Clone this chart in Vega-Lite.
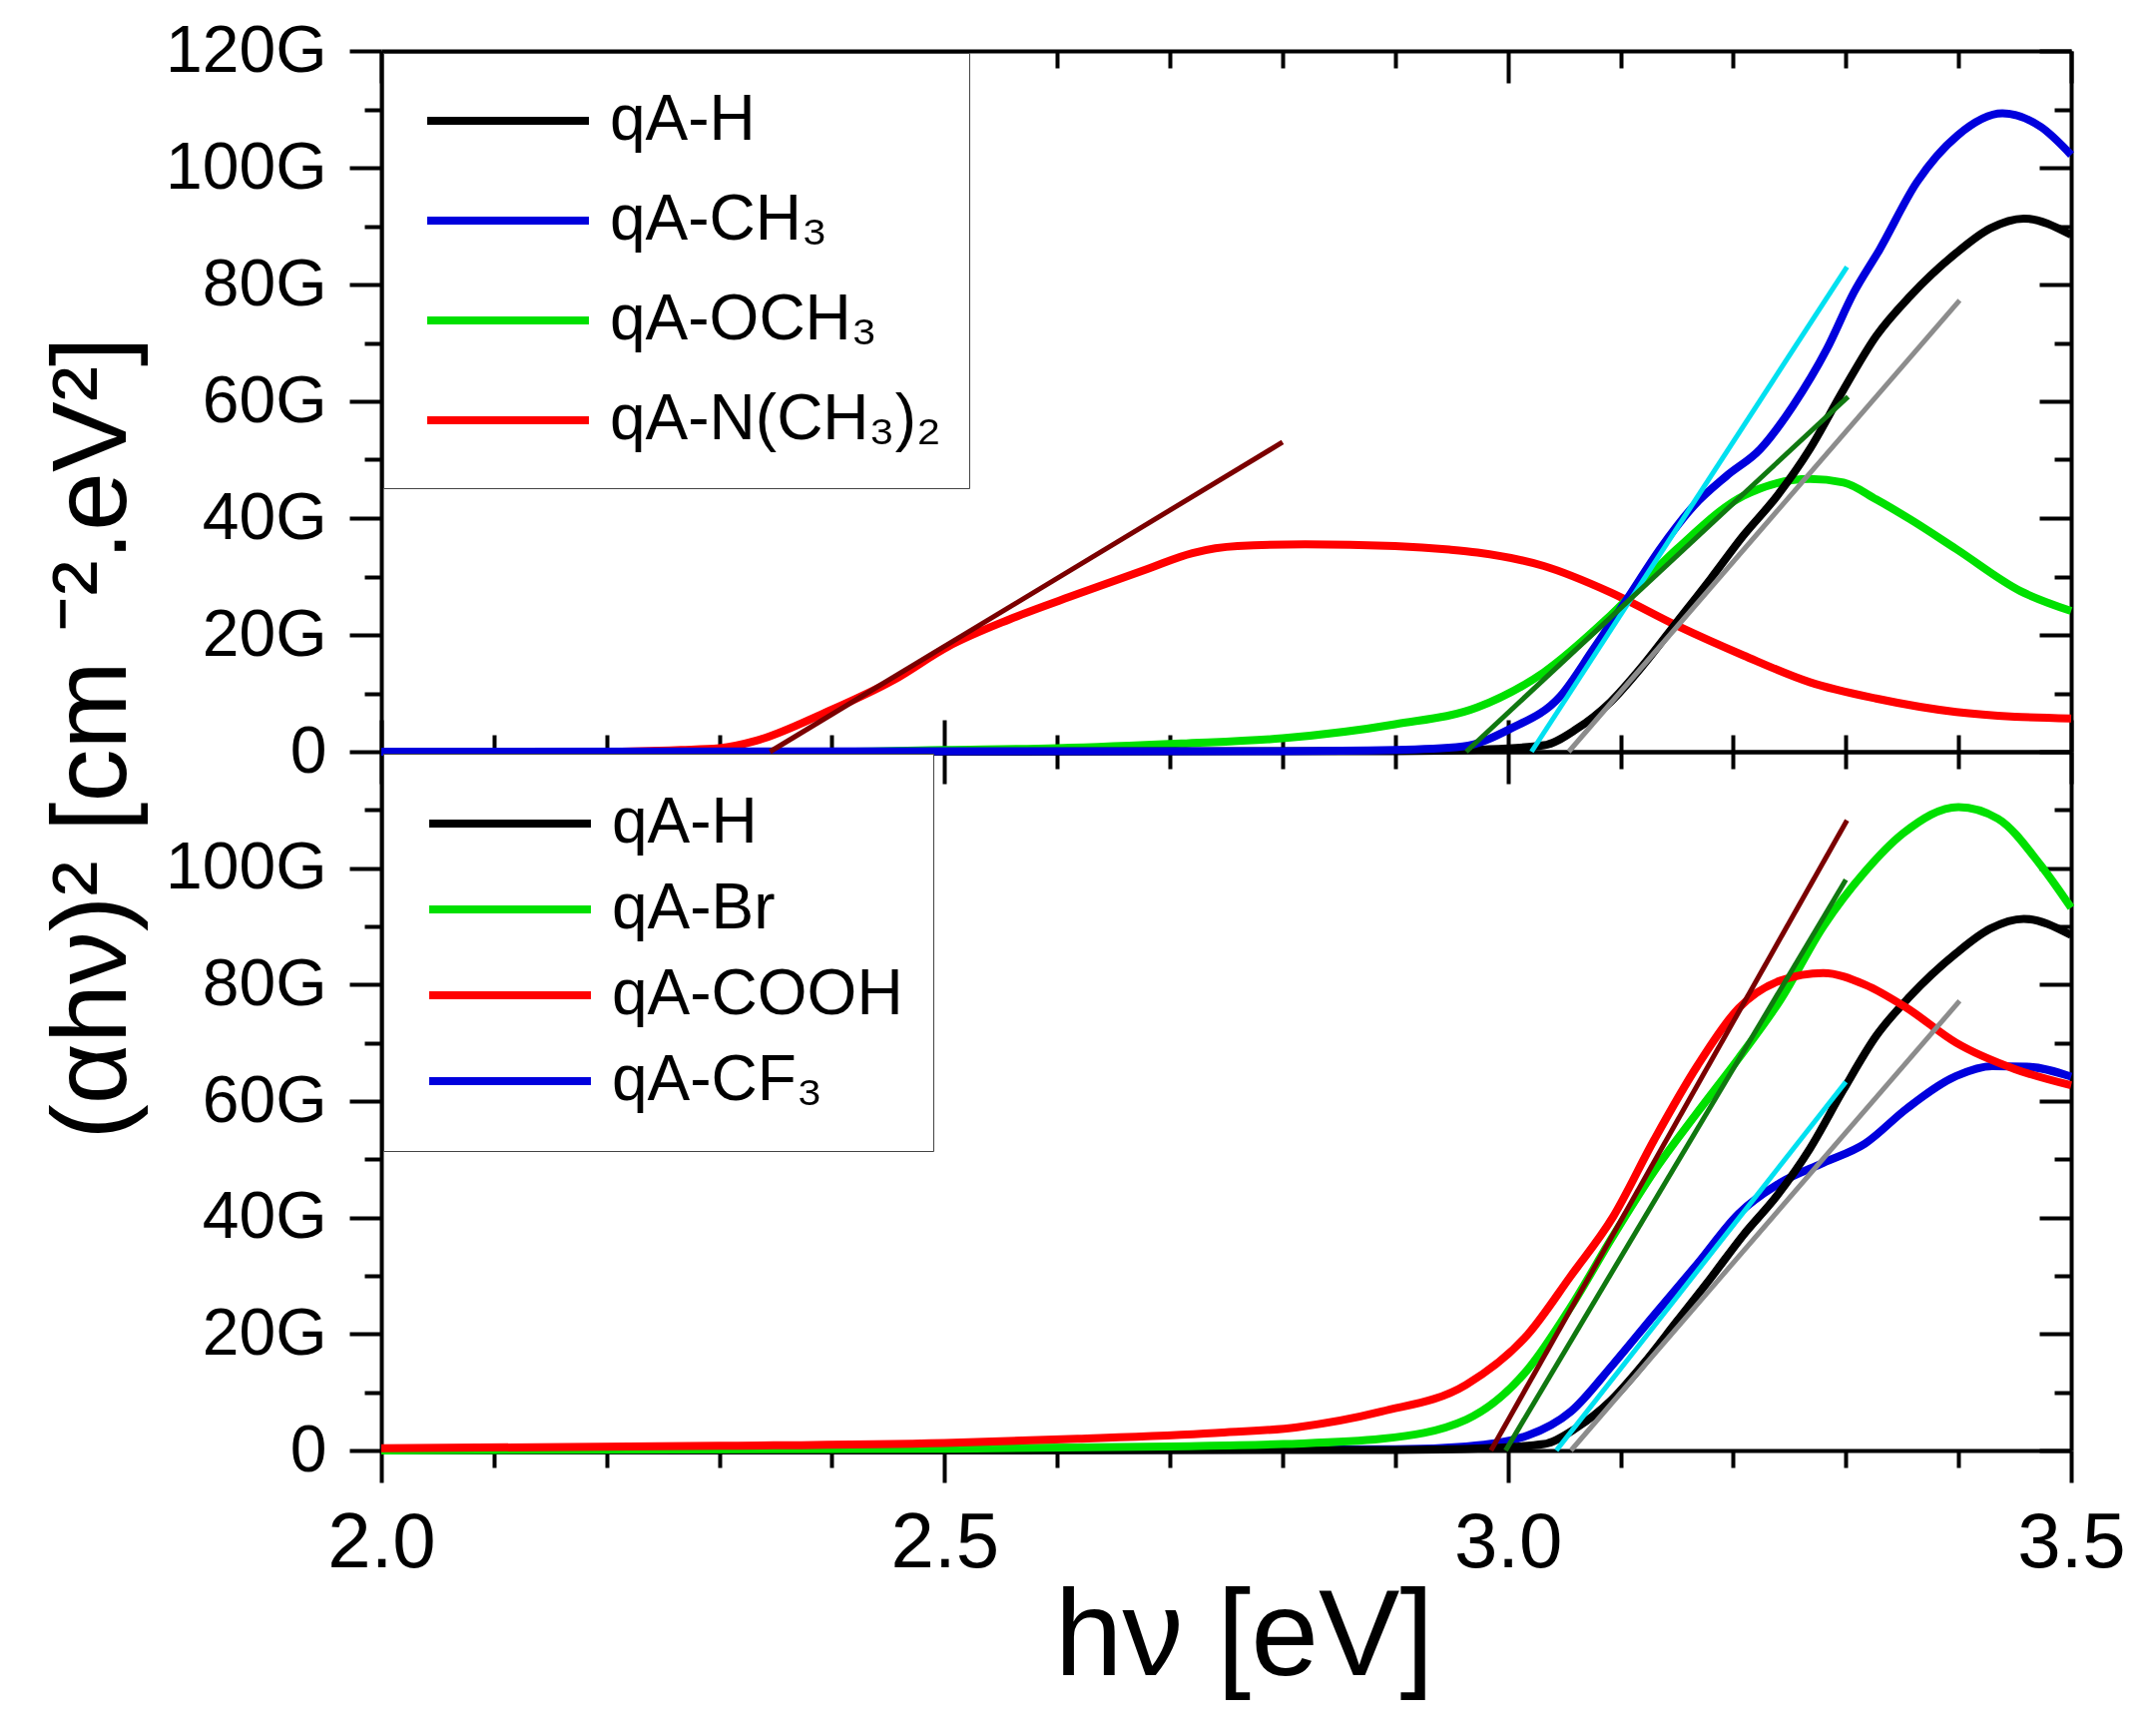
{
  "$schema": "https://vega.github.io/schema/vega-lite/v6.json",
  "width": 1693,
  "height": 1402,
  "autosize": {"type": "none"},
  "padding": {"left": 382, "top": 51, "right": 85, "bottom": 283},
  "background": "#ffffff",
  "config": {
    "view": {"stroke": null},
    "axis": {
      "grid": false,
      "domainColor": "#000000",
      "domainWidth": 4,
      "tickColor": "#000000",
      "tickWidth": 4,
      "labelFont": "Liberation Sans",
      "labelColor": "#000000",
      "labelFlush": false,
      "labelOverlap": false,
      "titleFont": "Liberation Sans",
      "titleColor": "#000000",
      "titleFontWeight": "normal"
    },
    "legend": {
      "labelFont": "Liberation Sans",
      "labelColor": "#000000"
    }
  },
  "datasets": {
    "top": [
      {"sample": "qA-N(CH₃)₂", "eV": 2.0, "G": 0},
      {"sample": "qA-N(CH₃)₂", "eV": 2.2, "G": 0},
      {"sample": "qA-N(CH₃)₂", "eV": 2.266, "G": 0.3},
      {"sample": "qA-N(CH₃)₂", "eV": 2.3, "G": 0.6},
      {"sample": "qA-N(CH₃)₂", "eV": 2.333, "G": 1.9},
      {"sample": "qA-N(CH₃)₂", "eV": 2.393, "G": 6.6},
      {"sample": "qA-N(CH₃)₂", "eV": 2.455, "G": 12.3},
      {"sample": "qA-N(CH₃)₂", "eV": 2.503, "G": 18},
      {"sample": "qA-N(CH₃)₂", "eV": 2.558, "G": 22.7},
      {"sample": "qA-N(CH₃)₂", "eV": 2.618, "G": 27},
      {"sample": "qA-N(CH₃)₂", "eV": 2.68, "G": 31.3},
      {"sample": "qA-N(CH₃)₂", "eV": 2.72, "G": 34},
      {"sample": "qA-N(CH₃)₂", "eV": 2.76, "G": 35.2},
      {"sample": "qA-N(CH₃)₂", "eV": 2.82, "G": 35.5},
      {"sample": "qA-N(CH₃)₂", "eV": 2.9, "G": 35.2},
      {"sample": "qA-N(CH₃)₂", "eV": 2.948, "G": 34.6},
      {"sample": "qA-N(CH₃)₂", "eV": 2.973, "G": 34.1},
      {"sample": "qA-N(CH₃)₂", "eV": 3.032, "G": 31.8},
      {"sample": "qA-N(CH₃)₂", "eV": 3.091, "G": 27.3},
      {"sample": "qA-N(CH₃)₂", "eV": 3.15, "G": 21.6},
      {"sample": "qA-N(CH₃)₂", "eV": 3.209, "G": 16.5},
      {"sample": "qA-N(CH₃)₂", "eV": 3.268, "G": 11.9},
      {"sample": "qA-N(CH₃)₂", "eV": 3.327, "G": 9.1},
      {"sample": "qA-N(CH₃)₂", "eV": 3.398, "G": 6.8},
      {"sample": "qA-N(CH₃)₂", "eV": 3.45, "G": 6},
      {"sample": "qA-N(CH₃)₂", "eV": 3.5, "G": 5.7},
      {"sample": "qA-OCH₃", "eV": 2.0, "G": 0},
      {"sample": "qA-OCH₃", "eV": 2.4, "G": 0},
      {"sample": "qA-OCH₃", "eV": 2.5, "G": 0.3},
      {"sample": "qA-OCH₃", "eV": 2.6, "G": 0.6},
      {"sample": "qA-OCH₃", "eV": 2.71, "G": 1.4},
      {"sample": "qA-OCH₃", "eV": 2.8, "G": 2.3},
      {"sample": "qA-OCH₃", "eV": 2.9, "G": 4.7},
      {"sample": "qA-OCH₃", "eV": 2.973, "G": 7.6},
      {"sample": "qA-OCH₃", "eV": 3.032, "G": 13.6},
      {"sample": "qA-OCH₃", "eV": 3.091, "G": 23.3},
      {"sample": "qA-OCH₃", "eV": 3.15, "G": 34.7},
      {"sample": "qA-OCH₃", "eV": 3.209, "G": 43.8},
      {"sample": "qA-OCH₃", "eV": 3.268, "G": 46.7},
      {"sample": "qA-OCH₃", "eV": 3.298, "G": 46.1},
      {"sample": "qA-OCH₃", "eV": 3.327, "G": 43.2},
      {"sample": "qA-OCH₃", "eV": 3.357, "G": 39.8},
      {"sample": "qA-OCH₃", "eV": 3.398, "G": 34.7},
      {"sample": "qA-OCH₃", "eV": 3.455, "G": 27.5},
      {"sample": "qA-OCH₃", "eV": 3.5, "G": 24.1},
      {"sample": "qA-H", "eV": 2.0, "G": 0},
      {"sample": "qA-H", "eV": 2.5, "G": 0},
      {"sample": "qA-H", "eV": 2.9, "G": 0.1},
      {"sample": "qA-H", "eV": 2.98, "G": 0.4},
      {"sample": "qA-H", "eV": 3.032, "G": 1.1},
      {"sample": "qA-H", "eV": 3.061, "G": 3.9},
      {"sample": "qA-H", "eV": 3.091, "G": 8.5},
      {"sample": "qA-H", "eV": 3.12, "G": 14.8},
      {"sample": "qA-H", "eV": 3.15, "G": 22.2},
      {"sample": "qA-H", "eV": 3.18, "G": 29.6},
      {"sample": "qA-H", "eV": 3.209, "G": 37},
      {"sample": "qA-H", "eV": 3.239, "G": 43.8},
      {"sample": "qA-H", "eV": 3.268, "G": 51.8},
      {"sample": "qA-H", "eV": 3.298, "G": 62},
      {"sample": "qA-H", "eV": 3.327, "G": 71.2},
      {"sample": "qA-H", "eV": 3.357, "G": 78},
      {"sample": "qA-H", "eV": 3.398, "G": 85.4},
      {"sample": "qA-H", "eV": 3.428, "G": 89.6},
      {"sample": "qA-H", "eV": 3.458, "G": 91.3},
      {"sample": "qA-H", "eV": 3.5, "G": 88.5},
      {"sample": "qA-CH₃", "eV": 2.0, "G": 0},
      {"sample": "qA-CH₃", "eV": 2.8, "G": 0.1},
      {"sample": "qA-CH₃", "eV": 2.9, "G": 0.3},
      {"sample": "qA-CH₃", "eV": 2.96, "G": 0.9},
      {"sample": "qA-CH₃", "eV": 3.002, "G": 3.9},
      {"sample": "qA-CH₃", "eV": 3.047, "G": 9.6},
      {"sample": "qA-CH₃", "eV": 3.076, "G": 17.6},
      {"sample": "qA-CH₃", "eV": 3.106, "G": 26.2},
      {"sample": "qA-CH₃", "eV": 3.135, "G": 34.7},
      {"sample": "qA-CH₃", "eV": 3.165, "G": 42.1},
      {"sample": "qA-CH₃", "eV": 3.194, "G": 47.2},
      {"sample": "qA-CH₃", "eV": 3.224, "G": 51.8},
      {"sample": "qA-CH₃", "eV": 3.253, "G": 59.2},
      {"sample": "qA-CH₃", "eV": 3.283, "G": 68.9},
      {"sample": "qA-CH₃", "eV": 3.307, "G": 78.6},
      {"sample": "qA-CH₃", "eV": 3.33, "G": 86},
      {"sample": "qA-CH₃", "eV": 3.363, "G": 97.5},
      {"sample": "qA-CH₃", "eV": 3.399, "G": 105.5},
      {"sample": "qA-CH₃", "eV": 3.439, "G": 109.3},
      {"sample": "qA-CH₃", "eV": 3.473, "G": 107},
      {"sample": "qA-CH₃", "eV": 3.5, "G": 102.2}
    ],
    "topfit": [
      {"line": "N(CH₃)₂ fit", "eV": 2.345, "G": 0},
      {"line": "N(CH₃)₂ fit", "eV": 2.8, "G": 53},
      {"line": "CH₃ fit", "eV": 3.021, "G": 0},
      {"line": "CH₃ fit", "eV": 3.301, "G": 83},
      {"line": "OCH₃ fit", "eV": 2.963, "G": 0},
      {"line": "OCH₃ fit", "eV": 3.302, "G": 60.8},
      {"line": "H fit", "eV": 3.054, "G": 0},
      {"line": "H fit", "eV": 3.401, "G": 77.3}
    ],
    "bottom": [
      {"sample": "qA-CF₃", "eV": 2.0, "G": 0},
      {"sample": "qA-CF₃", "eV": 2.9, "G": 0.2},
      {"sample": "qA-CF₃", "eV": 2.963, "G": 0.7},
      {"sample": "qA-CF₃", "eV": 3.018, "G": 2.6},
      {"sample": "qA-CF₃", "eV": 3.056, "G": 6.7},
      {"sample": "qA-CF₃", "eV": 3.093, "G": 14.7},
      {"sample": "qA-CF₃", "eV": 3.13, "G": 23.3},
      {"sample": "qA-CF₃", "eV": 3.168, "G": 32},
      {"sample": "qA-CF₃", "eV": 3.205, "G": 40.7},
      {"sample": "qA-CF₃", "eV": 3.242, "G": 46},
      {"sample": "qA-CF₃", "eV": 3.28, "G": 49.4},
      {"sample": "qA-CF₃", "eV": 3.317, "G": 52.7},
      {"sample": "qA-CF₃", "eV": 3.354, "G": 58.7},
      {"sample": "qA-CF₃", "eV": 3.398, "G": 64.3},
      {"sample": "qA-CF₃", "eV": 3.43, "G": 66},
      {"sample": "qA-CF₃", "eV": 3.461, "G": 65.9},
      {"sample": "qA-CF₃", "eV": 3.5, "G": 64.2},
      {"sample": "qA-H", "eV": 2.0, "G": 0},
      {"sample": "qA-H", "eV": 2.5, "G": 0},
      {"sample": "qA-H", "eV": 2.9, "G": 0.1},
      {"sample": "qA-H", "eV": 2.98, "G": 0.4},
      {"sample": "qA-H", "eV": 3.032, "G": 1.1},
      {"sample": "qA-H", "eV": 3.061, "G": 3.9},
      {"sample": "qA-H", "eV": 3.091, "G": 8.5},
      {"sample": "qA-H", "eV": 3.12, "G": 14.8},
      {"sample": "qA-H", "eV": 3.15, "G": 22.2},
      {"sample": "qA-H", "eV": 3.18, "G": 29.6},
      {"sample": "qA-H", "eV": 3.209, "G": 37},
      {"sample": "qA-H", "eV": 3.239, "G": 43.8},
      {"sample": "qA-H", "eV": 3.268, "G": 51.8},
      {"sample": "qA-H", "eV": 3.298, "G": 62},
      {"sample": "qA-H", "eV": 3.327, "G": 71.2},
      {"sample": "qA-H", "eV": 3.357, "G": 78},
      {"sample": "qA-H", "eV": 3.398, "G": 85.4},
      {"sample": "qA-H", "eV": 3.428, "G": 89.6},
      {"sample": "qA-H", "eV": 3.458, "G": 91.3},
      {"sample": "qA-H", "eV": 3.5, "G": 88.5},
      {"sample": "qA-Br", "eV": 2.0, "G": 0},
      {"sample": "qA-Br", "eV": 2.5, "G": 0.3},
      {"sample": "qA-Br", "eV": 2.7, "G": 0.7},
      {"sample": "qA-Br", "eV": 2.801, "G": 1.1},
      {"sample": "qA-Br", "eV": 2.888, "G": 2},
      {"sample": "qA-Br", "eV": 2.963, "G": 5.3},
      {"sample": "qA-Br", "eV": 3.018, "G": 14},
      {"sample": "qA-Br", "eV": 3.056, "G": 24.7},
      {"sample": "qA-Br", "eV": 3.093, "G": 36.7},
      {"sample": "qA-Br", "eV": 3.13, "G": 48},
      {"sample": "qA-Br", "eV": 3.168, "G": 58},
      {"sample": "qA-Br", "eV": 3.205, "G": 67.4},
      {"sample": "qA-Br", "eV": 3.242, "G": 77.4},
      {"sample": "qA-Br", "eV": 3.28, "G": 90},
      {"sample": "qA-Br", "eV": 3.317, "G": 99.4},
      {"sample": "qA-Br", "eV": 3.351, "G": 106},
      {"sample": "qA-Br", "eV": 3.4, "G": 110.5},
      {"sample": "qA-Br", "eV": 3.435, "G": 108.5},
      {"sample": "qA-Br", "eV": 3.473, "G": 100.5},
      {"sample": "qA-Br", "eV": 3.5, "G": 93.2},
      {"sample": "qA-COOH", "eV": 2.0, "G": 0.4},
      {"sample": "qA-COOH", "eV": 2.3, "G": 0.8},
      {"sample": "qA-COOH", "eV": 2.5, "G": 1.3},
      {"sample": "qA-COOH", "eV": 2.618, "G": 2},
      {"sample": "qA-COOH", "eV": 2.74, "G": 3},
      {"sample": "qA-COOH", "eV": 2.813, "G": 4},
      {"sample": "qA-COOH", "eV": 2.888, "G": 6.7},
      {"sample": "qA-COOH", "eV": 2.963, "G": 11.3},
      {"sample": "qA-COOH", "eV": 3.018, "G": 20},
      {"sample": "qA-COOH", "eV": 3.056, "G": 30},
      {"sample": "qA-COOH", "eV": 3.093, "G": 40},
      {"sample": "qA-COOH", "eV": 3.13, "G": 53.4},
      {"sample": "qA-COOH", "eV": 3.168, "G": 66},
      {"sample": "qA-COOH", "eV": 3.205, "G": 76},
      {"sample": "qA-COOH", "eV": 3.242, "G": 80.7},
      {"sample": "qA-COOH", "eV": 3.28, "G": 82},
      {"sample": "qA-COOH", "eV": 3.317, "G": 80},
      {"sample": "qA-COOH", "eV": 3.354, "G": 76},
      {"sample": "qA-COOH", "eV": 3.398, "G": 70},
      {"sample": "qA-COOH", "eV": 3.45, "G": 65.5},
      {"sample": "qA-COOH", "eV": 3.5, "G": 62.7}
    ],
    "bottomfit": [
      {"line": "COOH fit", "eV": 2.985, "G": 0},
      {"line": "COOH fit", "eV": 3.301, "G": 108.2},
      {"line": "Br fit", "eV": 2.998, "G": 0},
      {"line": "Br fit", "eV": 3.3, "G": 98},
      {"line": "CF₃ fit", "eV": 3.043, "G": 0},
      {"line": "CF₃ fit", "eV": 3.3, "G": 63.3},
      {"line": "H fit", "eV": 3.056, "G": 0},
      {"line": "H fit", "eV": 3.401, "G": 77.2}
    ]
  },
  "layer": [
    {
      "data": {"name": "top"},
      "mark": {"type": "line", "strokeWidth": 8, "interpolate": "monotone"},
      "encoding": {
        "x": {
          "field": "eV", "type": "quantitative",
          "scale": {"domain": [2, 3.5], "nice": false},
          "axis": {
            "orient": "top", "title": null, "labels": false,
            "values": [2, 2.1, 2.2, 2.3, 2.4, 2.5, 2.6, 2.7, 2.8, 2.9, 3, 3.1, 3.2, 3.3, 3.4, 3.5],
            "tickSize": {"condition": {"test": "abs(datum.value*2 - round(datum.value*2)) < 0.01", "value": -32}, "value": -17}
          }
        },
        "y": {
          "field": "G", "type": "quantitative",
          "scale": {"domain": [0, 120], "range": [702, 0], "nice": false, "zero": false},
          "axis": {
            "orient": "left",
            "values": [0, 10, 20, 30, 40, 50, 60, 70, 80, 90, 100, 110, 120],
            "labelExpr": "datum.value % 20 == 0 ? (datum.value == 0 ? '0' : datum.value + 'G') : ''",
            "labelFontSize": 66, "labelPadding": 23,
            "tickSize": {"condition": {"test": "datum.value % 20 == 0", "value": 32}, "value": 17},
            "title": "(αhν)² [cm ⁻².eV²]",
            "titleFontSize": 106, "titleAngle": 270,
            "titleX": -289, "titleY": 688,
            "titleAlign": "center", "titleBaseline": "middle"
          }
        },
        "color": {
          "field": "sample", "type": "nominal",
          "scale": {
            "domain": ["qA-H", "qA-CH₃", "qA-OCH₃", "qA-N(CH₃)₂"],
            "range": ["#000000", "#0000DD", "#00E000", "#FF0000"]
          },
          "legend": {
            "title": null, "orient": "none", "direction": "vertical",
            "legendX": 2, "legendY": 2,
            "labelFontSize": 64, "labelLimit": 500,
            "symbolType": "stroke", "symbolSize": 26244, "symbolStrokeWidth": 8,
            "clipHeight": 80, "rowPadding": 20, "padding": 28,
            "labelOffset": 17, "symbolOffset": 12,
            "strokeColor": "#444444", "fillColor": "#ffffff", "zindex": 2
          }
        }
      }
    },
    {
      "data": {"name": "topfit"},
      "mark": {"type": "line", "strokeWidth": 5},
      "encoding": {
        "x": {
          "field": "eV", "type": "quantitative",
          "scale": {"domain": [2, 3.5], "nice": false},
          "axis": {
            "orient": "bottom", "offset": -700, "title": null, "labels": false,
            "values": [2, 2.1, 2.2, 2.3, 2.4, 2.5, 2.6, 2.7, 2.8, 2.9, 3, 3.1, 3.2, 3.3, 3.4, 3.5],
            "tickSize": {"condition": {"test": "abs(datum.value*2 - round(datum.value*2)) < 0.01", "value": -32}, "value": -17}
          }
        },
        "y": {
          "field": "G", "type": "quantitative",
          "scale": {"domain": [0, 120], "range": [702, 0], "nice": false, "zero": false},
          "axis": {
            "orient": "right", "title": null, "labels": false,
            "values": [0, 10, 20, 30, 40, 50, 60, 70, 80, 90, 100, 110, 120],
            "tickSize": {"condition": {"test": "datum.value % 20 == 0", "value": -32}, "value": -17}
          }
        },
        "color": {
          "field": "line", "type": "nominal",
          "scale": {
            "domain": ["N(CH₃)₂ fit", "CH₃ fit", "OCH₃ fit", "H fit"],
            "range": ["#7B0000", "#00E0F0", "#107810", "#8C8C8C"]
          },
          "legend": null
        }
      }
    },
    {
      "data": {"name": "bottom"},
      "mark": {"type": "line", "strokeWidth": 8, "interpolate": "monotone"},
      "encoding": {
        "x": {
          "field": "eV", "type": "quantitative",
          "scale": {"domain": [2, 3.5], "nice": false},
          "axis": {
            "orient": "bottom",
            "values": [2, 2.1, 2.2, 2.3, 2.4, 2.5, 2.6, 2.7, 2.8, 2.9, 3, 3.1, 3.2, 3.3, 3.4, 3.5],
            "labelExpr": "abs(datum.value*2 - round(datum.value*2)) < 0.01 ? format(datum.value, '.1f') : ''",
            "labelFontSize": 78, "labelPadding": 22,
            "tickSize": {"condition": {"test": "abs(datum.value*2 - round(datum.value*2)) < 0.01", "value": 32}, "value": 17},
            "title": "hν [eV]",
            "titleFontSize": 122,
            "titleX": 864, "titleY": 224,
            "titleAlign": "center", "titleBaseline": "alphabetic"
          }
        },
        "y": {
          "field": "G", "type": "quantitative",
          "scale": {"domain": [0, 120], "range": [1402, 702], "nice": false, "zero": false},
          "axis": {
            "orient": "left", "title": null,
            "values": [0, 10, 20, 30, 40, 50, 60, 70, 80, 90, 100, 110],
            "labelExpr": "datum.value % 20 == 0 ? (datum.value == 0 ? '0' : datum.value + 'G') : ''",
            "labelFontSize": 66, "labelPadding": 23,
            "tickSize": {"condition": {"test": "datum.value % 20 == 0", "value": 32}, "value": 17}
          }
        },
        "color": {
          "field": "sample", "type": "nominal",
          "scale": {
            "domain": ["qA-H", "qA-Br", "qA-COOH", "qA-CF₃"],
            "range": ["#000000", "#00E000", "#FF0000", "#0000DD"]
          },
          "legend": {
            "title": null, "orient": "none", "direction": "vertical",
            "legendX": 2, "legendY": 704,
            "labelFontSize": 64, "labelLimit": 500,
            "symbolType": "stroke", "symbolSize": 26244, "symbolStrokeWidth": 8,
            "clipHeight": 80, "rowPadding": 6, "padding": 30,
            "labelOffset": 17, "symbolOffset": 12,
            "strokeColor": "#444444", "fillColor": "#ffffff", "zindex": 2
          }
        }
      }
    },
    {
      "data": {"name": "bottomfit"},
      "mark": {"type": "line", "strokeWidth": 5},
      "encoding": {
        "x": {
          "field": "eV", "type": "quantitative",
          "scale": {"domain": [2, 3.5], "nice": false},
          "axis": {
            "orient": "top", "offset": -702, "title": null, "labels": false,
            "values": [2, 2.1, 2.2, 2.3, 2.4, 2.5, 2.6, 2.7, 2.8, 2.9, 3, 3.1, 3.2, 3.3, 3.4, 3.5],
            "tickSize": {"condition": {"test": "abs(datum.value*2 - round(datum.value*2)) < 0.01", "value": -32}, "value": -17}
          }
        },
        "y": {
          "field": "G", "type": "quantitative",
          "scale": {"domain": [0, 120], "range": [1402, 702], "nice": false, "zero": false},
          "axis": {
            "orient": "right", "title": null, "labels": false,
            "values": [0, 10, 20, 30, 40, 50, 60, 70, 80, 90, 100, 110],
            "tickSize": {"condition": {"test": "datum.value % 20 == 0", "value": -32}, "value": -17}
          }
        },
        "color": {
          "field": "line", "type": "nominal",
          "scale": {
            "domain": ["COOH fit", "Br fit", "CF₃ fit", "H fit"],
            "range": ["#7B0000", "#107810", "#00E0F0", "#8C8C8C"]
          },
          "legend": null
        }
      }
    }
  ],
  "resolve": {
    "scale": {"y": "independent", "color": "independent"},
    "axis": {"x": "independent", "y": "independent"}
  }
}
